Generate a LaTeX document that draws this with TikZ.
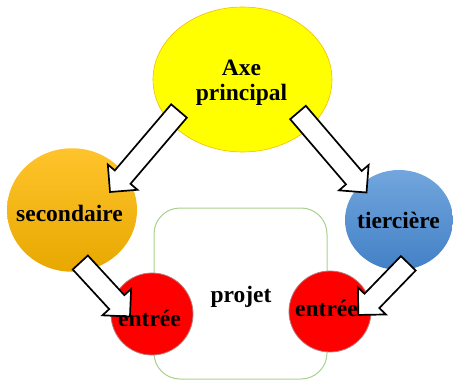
\documentclass[tikz,border=0pt]{standalone}
\usepackage{fontspec}
\setmainfont{Liberation Serif}
\usetikzlibrary{shapes.geometric,calc}
\definecolor{axeyellow}{RGB}{255,255,0}
\definecolor{axeborder}{RGB}{240,190,0}
\definecolor{orangetop}{RGB}{255,196,44}
\definecolor{orangebot}{RGB}{232,168,0}
\definecolor{bluetop}{RGB}{114,166,221}
\definecolor{bluebot}{RGB}{66,128,198}
\definecolor{entreered}{RGB}{255,0,0}
\definecolor{entreeborder}{RGB}{185,120,120}
\definecolor{projetgreen}{RGB}{169,209,142}
\tikzset{
  blob/.style={ellipse, inner sep=0pt},
  lbl/.style={font=\bfseries\fontsize{23.5}{25}\selectfont, inner sep=0pt, anchor=base},
  barrow/.style={draw=black, fill=white, line width=1.7pt, line join=miter},
}
\newcommand{\blockarrow}[2]{%
  \draw[barrow] let \p1=($(#2)-(#1)$), \n1={atan2(\y1,\x1)}, \n2={veclen(\x1,\y1)} in
    [shift={(#1)}, rotate=\n1]
    (0,10.3) -- (\n2-19.5,10.3) -- (\n2-19.5,19.5) -- (\n2,0)
    -- (\n2-19.5,-19.5) -- (\n2-19.5,-10.3) -- (0,-10.3) -- cycle;}
\begin{document}
\begin{tikzpicture}[x=1pt,y=-1pt]
\useasboundingbox (0,0) rectangle (453,380);
% project frame
\node[draw=projetgreen, line width=1pt, rounded corners=26pt, minimum width=173pt, minimum height=171pt, inner sep=0pt] (proj) at (240.5,293.5) {};
% shapes
\node[blob, fill=axeyellow, draw=axeborder, line width=0.6pt, minimum width=179pt, minimum height=145pt] (axe) at (242.5,79.5) {};
\node[blob, top color=orangetop, bottom color=orangebot, minimum width=130pt, minimum height=123.5pt] (sec) at (72,210) {};
\node[blob, top color=bluetop, bottom color=bluebot, minimum width=108pt, minimum height=100pt] (ter) at (399,220) {};
\node[blob, fill=entreered, draw=entreeborder, line width=0.8pt, minimum width=82pt, minimum height=82pt] (e1) at (152,314) {};
\node[blob, fill=entreered, draw=entreeborder, line width=0.8pt, minimum width=82pt, minimum height=81pt] (e2) at (330,311.5) {};
% arrow end points
\coordinate (a1s) at (179,111);   \coordinate (a1e) at (110,192);
\coordinate (a2s) at (298,112.5); \coordinate (a2e) at (366.7,192.7);
\coordinate (a3s) at (80.3,262.5); \coordinate (a3e) at (130,316.5);
\coordinate (a4s) at (408.3,263.3); \coordinate (a4e) at (358.3,315);
\blockarrow{a1s}{a1e}
\blockarrow{a2s}{a2e}
\blockarrow{a3s}{a3e}
\blockarrow{a4s}{a4e}
% labels
\node[lbl, align=center] (taxe) at (241.5,100) {Axe\\principal};
\node[lbl] (tsec) at (69.5,221) {secondaire};
\node[lbl] (tter) at (398.5,228) {tiercière};
\node[lbl] (te1) at (149.5,326.7) {entrée};
\node[lbl] (te2) at (326.5,316.7) {entrée};
\node[lbl] (tproj) at (241,302) {projet};
\end{tikzpicture}
\end{document}
